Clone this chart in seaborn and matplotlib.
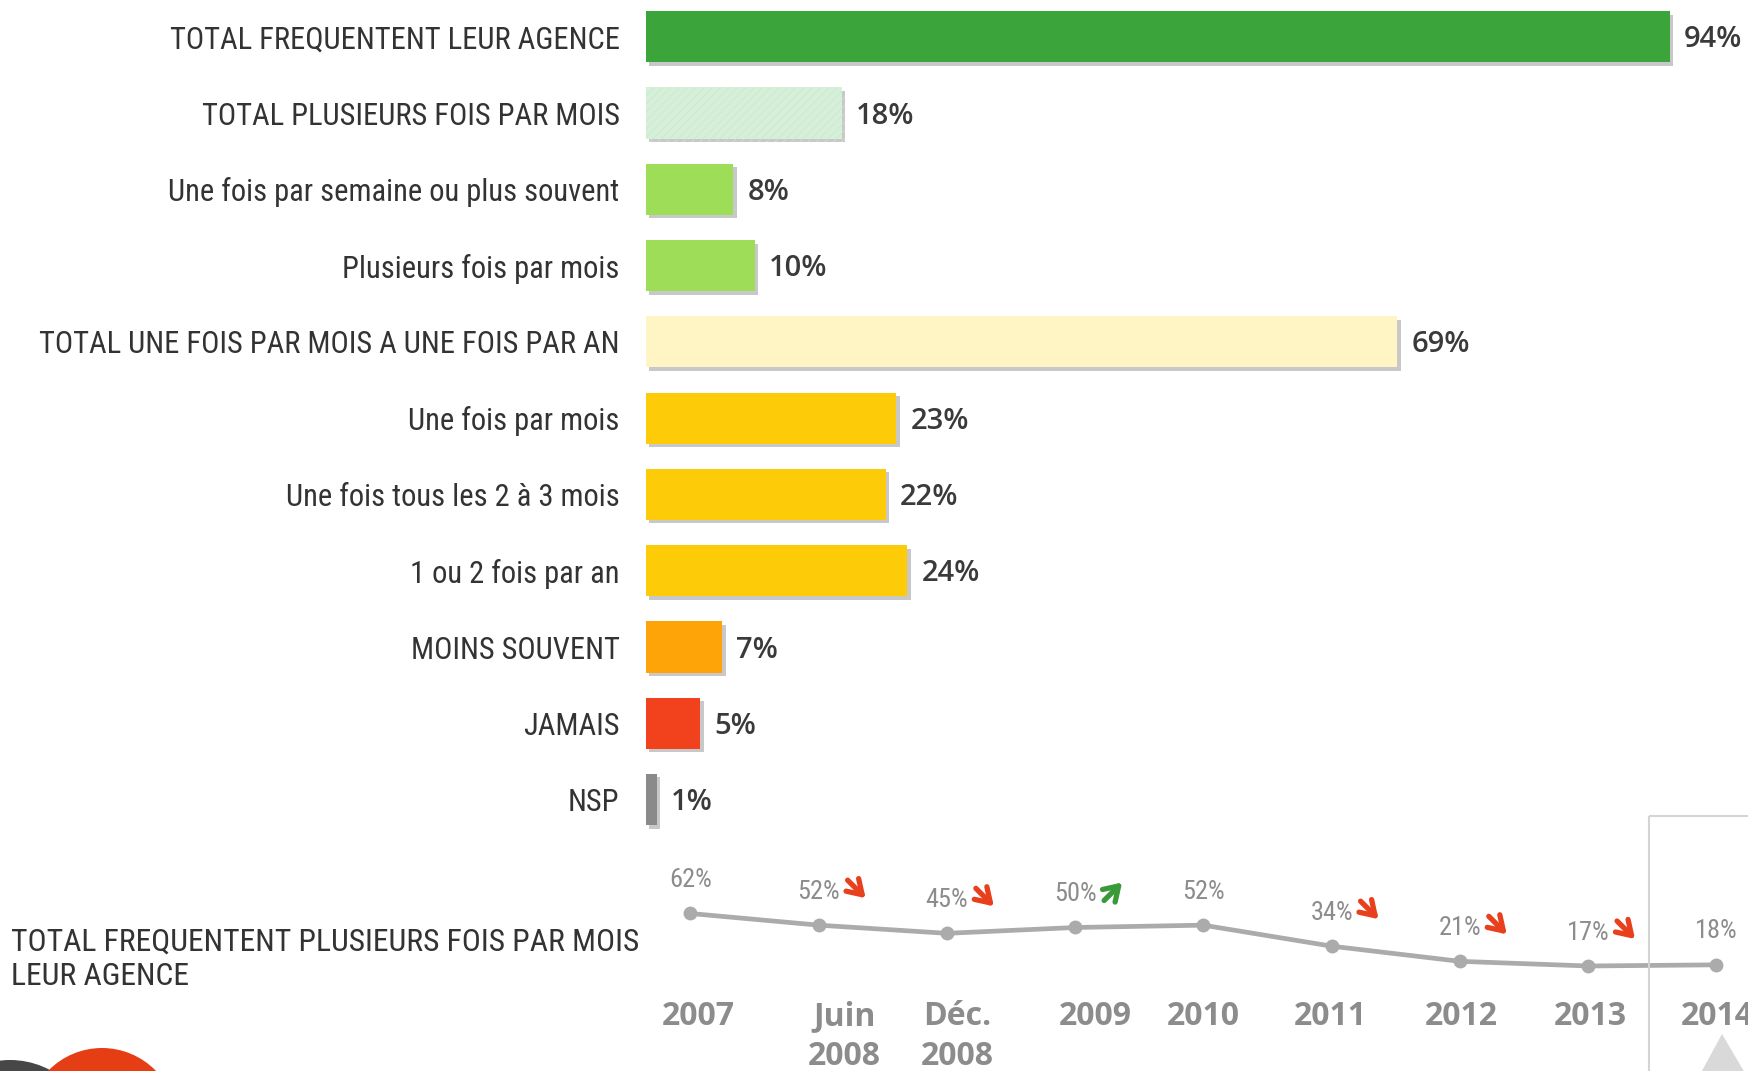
import matplotlib
matplotlib.use("Agg")
import matplotlib.pyplot as plt
import matplotlib.patches as mpatches
import matplotlib.patheffects as pe
import matplotlib.transforms as mtransforms
from matplotlib import font_manager
import seaborn as sns

###1: data
categories = ["TOTAL FREQUENTENT LEUR AGENCE",
              "TOTAL PLUSIEURS FOIS PAR MOIS",
              "Une fois par semaine ou plus souvent",
              "Plusieurs fois par mois",
              "TOTAL UNE FOIS PAR MOIS A UNE FOIS PAR AN",
              "Une fois par mois",
              "Une fois tous les 2 à 3 mois",
              "1 ou 2 fois par an",
              "MOINS SOUVENT",
              "JAMAIS",
              "NSP"]
values = [94, 18, 8, 10, 69, 23, 22, 24, 7, 5, 1]

periods = ["2007", "Juin\n2008", "Déc.\n2008", "2009", "2010", "2011", "2012", "2013", "2014"]
trend_values = [62, 52, 45, 50, 52, 34, 21, 17, 18]
trend_dir = ["", "down", "down", "up", "", "down", "down", "down", ""]

trend_title = "TOTAL FREQUENTENT PLUSIEURS FOIS PAR MOIS\nLEUR AGENCE"

bar_colors = ["#3ba43b", "#d6efd9", "#9edd58", "#9edd58", "#fef4c4",
              "#fecb08", "#fecb08", "#fecb08", "#fea308", "#f2421d", "#8a8a8a"]
# small horizontal nudges (px) of the period labels, as in the original slide
period_dx = [8, 26, 10, 20, 0, -1, 1, 2, 1]

###2: style
sns.set_theme(style="white")
installed = {f.name for f in font_manager.fontManager.ttflist}
narrow_first = next((f for f in ["Liberation Sans Narrow", "DejaVu Sans Condensed", "Roboto Condensed",
                                 "Open Sans Condensed", "Liberation Sans"] if f in installed), "DejaVu Sans")
narrow = [narrow_first, "DejaVu Sans"]
plt.rcParams["font.family"] = narrow
plt.rcParams["hatch.linewidth"] = 0.5
val_font = ["Open Sans", "DejaVu Sans"]

W, H = 1749, 1071
fig = plt.figure(figsize=(W / 100, H / 100), dpi=100)
fig.patch.set_facecolor("white")
# pixel transform (origin top-left) for decorations
pix = mtransforms.Affine2D().scale(1 / 100, -1 / 100).translate(0, H / 100) + fig.dpi_scale_trans

###3: bar chart
ax = fig.add_axes([646 / W, 1 - 840 / H, 1089 / W, 840 / H])
ax.set_facecolor("none")
sns.barplot(x=values, y=categories, hue=categories, palette=bar_colors,
            legend=False, orient="h", width=0.67, ax=ax, saturation=1)
ax.set_xlim(0, 100)
ax.set_ylim(10.53, -0.482)
for i, p in enumerate(ax.patches):
    p.set_linewidth(0)
    p.set_path_effects([pe.SimplePatchShadow(offset=(2.5, -2.5), shadow_rgbFace="#777777", alpha=0.4),
                        pe.Normal()])
    if i == 1:
        p.set_hatch("////")
        p.set_edgecolor("#c8e7cc")
for i, v in enumerate(values):
    ax.text(v + 1.3, i + 0.04, f"{v}%", va="center", ha="left", fontsize=21,
            fontweight="semibold", color="#3a3a3a", family=val_font)
ax.tick_params(axis="y", length=0, pad=19, labelsize=22, labelcolor="#333333")
ax.set_xticks([])
ax.set_xlabel("")
ax.set_ylabel("")
sns.despine(ax=ax, left=True, bottom=True)

###4: trend line
ax2 = fig.add_axes([600 / W, 0, 1149 / W, 331 / H])
ax2.set_facecolor("none")
x_idx = list(range(len(periods)))
sns.lineplot(x=x_idx, y=trend_values, color="#ababab", linewidth=3.4, marker="o",
             markersize=10, markeredgewidth=0, ax=ax2)
ax2.set_xlim(-0.705, 8.255)
ax2.set_ylim(-73, 210.7)
px_x, px_y = 1 / 128.3, 1 / 1.167   # data units per pixel
for i, v in enumerate(trend_values):
    ax2.annotate(f"{v}%", (i, v), xytext=(0, 24), textcoords="offset points",
                 ha="center", va="center", fontsize=19, color="#8c8c8c")
    if trend_dir[i]:
        cx, cy = i + 38 * px_x, v + 36 * px_y
        sgn = -1 if trend_dir[i] == "down" else 1
        ax2.annotate("", xy=(cx + 9 * px_x, cy + sgn * 9 * px_y),
                     xytext=(cx - 9 * px_x, cy - sgn * 9 * px_y),
                     arrowprops=dict(arrowstyle="->,head_length=0.5,head_width=0.32",
                                     lw=3.8, mutation_scale=20, shrinkA=0, shrinkB=0,
                                     color="#e8401c" if sgn < 0 else "#3a9a3a"))
    ax2.text(i + period_dx[i] * px_x, -12, periods[i], ha="center", va="top", fontsize=23,
             fontweight="bold", color="#8c8c8c", family=val_font, linespacing=1.3)
ax2.axis("off")

fig.text(11 / W, 1 - 959 / H, trend_title, ha="left", va="center", fontsize=22.8,
         color="#333333", linespacing=1.25)

###5: decorations
fig.add_artist(mpatches.Rectangle((1649, 816), 150, 300, fill=False, edgecolor="#d4d4d4",
                                  linewidth=1.5, transform=pix))
fig.add_artist(mpatches.Polygon([(1697, 1080), (1722, 1034), (1749, 1080)], closed=True,
                                facecolor="#d9d9d9", edgecolor="none", transform=pix))
fig.add_artist(mpatches.Circle((10, 1145), 85, facecolor="#474747", edgecolor="none", transform=pix))
fig.add_artist(mpatches.Circle((102, 1123), 75, facecolor="#e53e14", edgecolor="none", transform=pix))

fig.savefig("out.png", dpi=100)
